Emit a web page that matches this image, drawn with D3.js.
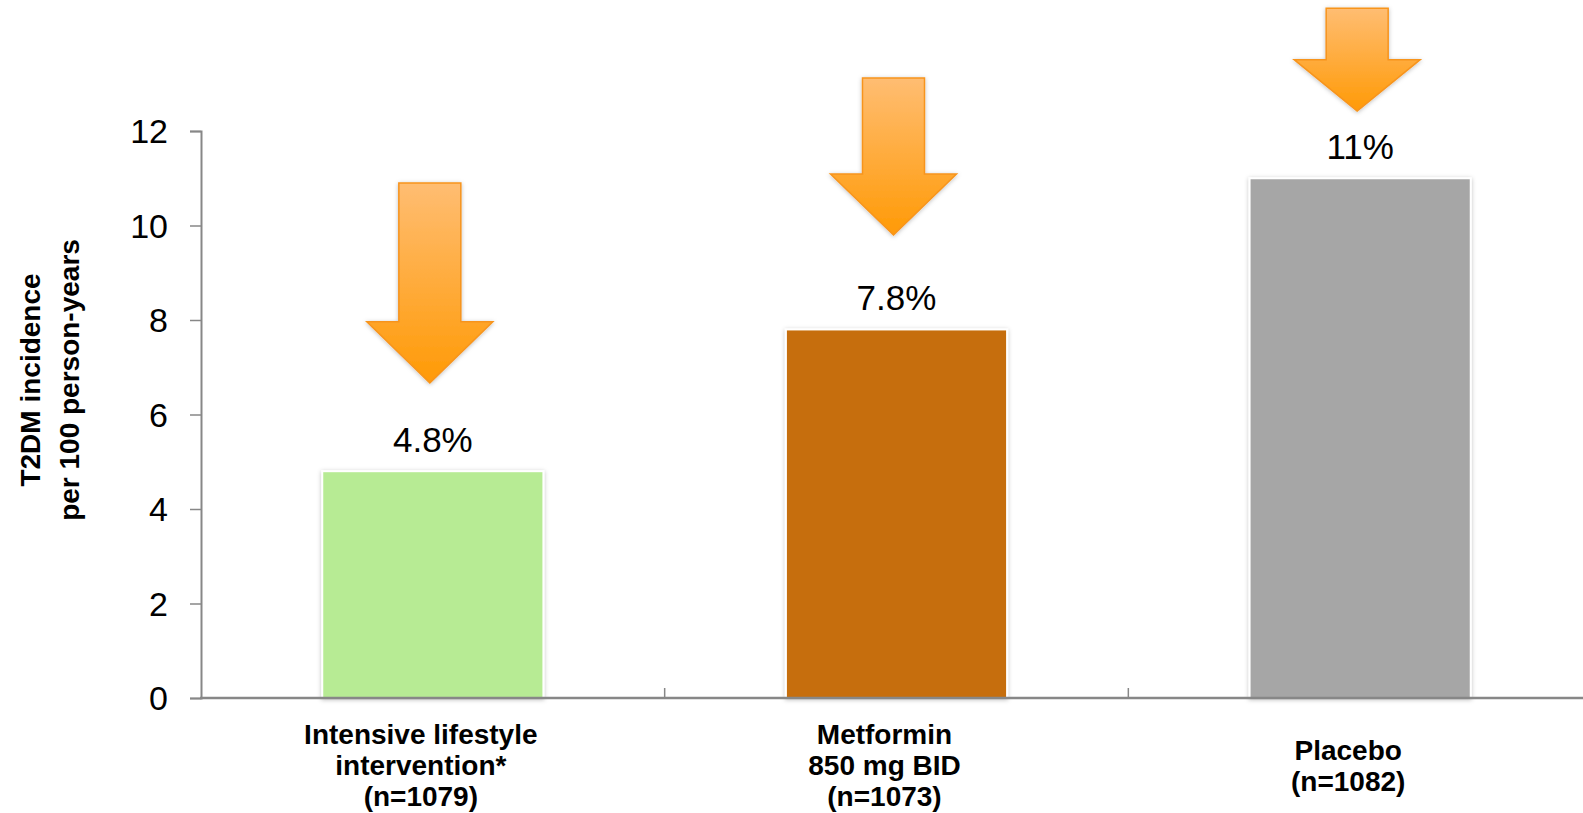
<!DOCTYPE html>
<html>
<head>
<meta charset="utf-8">
<script src="https://cdn.jsdelivr.net/npm/d3@7"></script>
<style>
  html, body { margin: 0; padding: 0; background: #fff; overflow: hidden; }
  svg { display: block; }
  text { font-family: Arial, "Liberation Sans", sans-serif; }
</style>
</head>
<body>
<svg id="chart" width="1583" height="813"></svg>
<script>
// ---- data ----
const categories = ["Intensive lifestyle intervention*", "Metformin 850 mg BID", "Placebo"];
const categoryLines = [
  ["Intensive lifestyle", "intervention*", "(n=1079)"],
  ["Metformin", "850 mg BID", "(n=1073)"],
  ["Placebo", "(n=1082)"]
];
const values = [4.8, 7.8, 11];
const valueLabels = ["4.8%", "7.8%", "11%"];
const barColors = ["#B7EB94", "#C66E08", "#A6A6A6"];
const yTicks = [0, 2, 4, 6, 8, 10, 12];
const yTitleLines = ["T2DM incidence", "per 100 person-years"];
// decorative arrows, expressed in y-axis units (top of shaft, arrow tip)
const arrowTop = [10.9, 13.12, 14.6];
const arrowTip = [6.67, 9.8, 12.42];

// ---- layout ----
const svg = d3.select("#chart");
const x0 = 201, x1 = 1592, yBase = 698, yTopPx = 131;

const x = d3.scaleBand().domain(categories).range([x0, x1]).paddingInner(0).paddingOuter(0);
const y = d3.scaleLinear().domain([0, 12]).range([yBase, yTopPx]);
const barW = x.bandwidth() * 0.477;

const defs = svg.append("defs");
const grad = defs.append("linearGradient").attr("id", "arrowGrad")
  .attr("x1", 0).attr("y1", 0).attr("x2", 0).attr("y2", 1);
grad.append("stop").attr("offset", "0%").attr("stop-color", "#FFBD72");
grad.append("stop").attr("offset", "100%").attr("stop-color", "#FF9A06");
const shadow = defs.append("filter").attr("id", "shadow")
  .attr("x", "-20%").attr("y", "-20%").attr("width", "140%").attr("height", "140%");
shadow.append("feDropShadow").attr("dx", 0).attr("dy", 1).attr("stdDeviation", 2)
  .attr("flood-color", "#000").attr("flood-opacity", 0.25);

// bars
svg.append("g").selectAll("rect").data(categories).join("rect")
  .attr("x", (d) => x(d) + x.bandwidth() / 2 - barW / 2)
  .attr("y", (d, i) => y(values[i]))
  .attr("width", barW)
  .attr("height", (d, i) => yBase - y(values[i]))
  .attr("fill", (d, i) => barColors[i])
  .attr("stroke", "#fff").attr("stroke-width", 2)
  .attr("filter", "url(#shadow)");

// y axis
const yAxis = d3.axisLeft(y).tickValues(yTicks).tickSize(11).tickPadding(22).tickFormat(d3.format("d"));
const gy = svg.append("g").attr("transform", `translate(${x0},0)`).call(yAxis);
gy.select(".domain").attr("stroke", "#878787").attr("stroke-width", 2);
gy.selectAll(".tick line").attr("stroke", "#878787").attr("stroke-width", 1.5);
gy.selectAll(".tick text").attr("font-size", 34).attr("fill", "#000")
  .attr("font-family", "Arial, 'Liberation Sans', sans-serif").attr("dy", "0.35em");

// x axis line + boundary ticks (pointing up)
svg.append("line").attr("x1", x0 - 1).attr("x2", 1583).attr("y1", yBase).attr("y2", yBase)
  .attr("stroke", "#878787").attr("stroke-width", 2.5);
svg.append("g").selectAll("line").data(categories.slice(1)).join("line")
  .attr("x1", (d) => x(d)).attr("x2", (d) => x(d))
  .attr("y1", yBase - 10).attr("y2", yBase)
  .attr("stroke", "#878787").attr("stroke-width", 1.5);

// category labels
const lineH = 31;
const catG = svg.append("g");
categories.forEach((c, i) => {
  const lines = categoryLines[i];
  const cx = x(c) + x.bandwidth() / 2 - 12;
  const n = lines.length;
  const t = catG.append("text").attr("text-anchor", "middle")
    .attr("font-size", 28).attr("font-weight", "bold").attr("fill", "#000");
  lines.forEach((ln, j) => {
    t.append("tspan").attr("x", cx)
      .attr("y", 765 + (j - (n - 1) / 2) * lineH + 10)
      .text(ln);
  });
});

// value labels
svg.append("g").selectAll("text").data(categories).join("text")
  .attr("x", (d) => x(d) + x.bandwidth() / 2)
  .attr("y", (d, i) => y(values[i]) - 19)
  .attr("text-anchor", "middle")
  .attr("font-size", 35).attr("fill", "#000")
  .text((d, i) => valueLabels[i]);

// y title
const yt = svg.append("text").attr("transform", "translate(0,380) rotate(-90)")
  .attr("text-anchor", "middle").attr("font-size", 28).attr("font-weight", "bold").attr("fill", "#000");
yTitleLines.forEach((ln, j) => {
  yt.append("tspan").attr("x", 0).attr("y", 40 + j * 39).text(ln);
});

// arrows
const shaftW = 62, headW = 126;
const arrowPath = (cx, top, tip) => {
  const headL = Math.min(61, (tip - top) / 2);
  const hy = tip - headL;
  return `M${cx - shaftW / 2},${top} L${cx + shaftW / 2},${top} L${cx + shaftW / 2},${hy} ` +
    `L${cx + headW / 2},${hy} L${cx},${tip} L${cx - headW / 2},${hy} L${cx - shaftW / 2},${hy} Z`;
};
svg.append("g").selectAll("path").data(categories).join("path")
  .attr("d", (d, i) => arrowPath(x(d) + x.bandwidth() / 2 - 3, y(arrowTop[i]), y(arrowTip[i])))
  .attr("fill", "url(#arrowGrad)")
  .attr("stroke", "#F7941D").attr("stroke-width", 1.5)
  .attr("filter", "url(#shadow)");
</script>
</body>
</html>
